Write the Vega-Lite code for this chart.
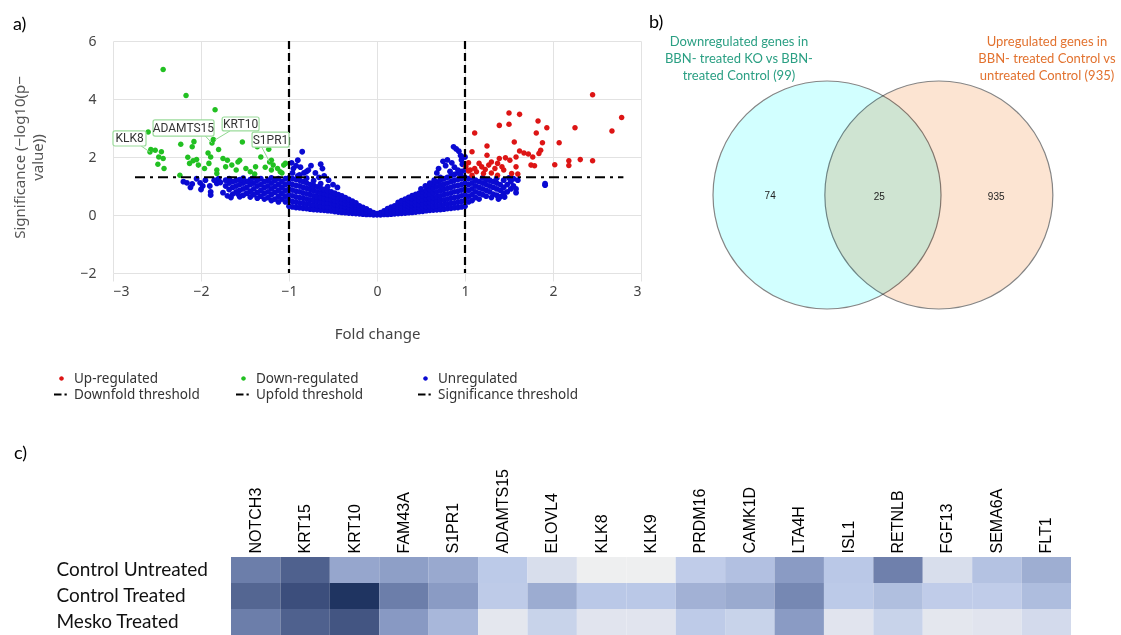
{
"$schema": "https://vega.github.io/schema/vega-lite/v6.json",
"padding": {"left": 12, "top": 14, "right": 0, "bottom": 0},
"background": "white",
"config": {"view": {"stroke": null}, "font": "Noto Sans"},
"spacing": 43,
"resolve": {"scale": {"color": "independent", "shape": "independent"}},
"datasets": {
"green": [{"x":-2.43,"y":5.02},{"x":-2.17,"y":4.12},{"x":-1.84,"y":3.63},{"x":-2.6,"y":2.86},{"x":-1.86,"y":2.6},{"x":-1.53,"y":2.52},{"x":-2.23,"y":2.44},{"x":-2.08,"y":2.53},{"x":-2.1,"y":2.35},{"x":-1.92,"y":2.14},{"x":-1.8,"y":2.26},{"x":-1.36,"y":2.35},{"x":-1.23,"y":2.27},{"x":-2.57,"y":2.26},{"x":-2.52,"y":2.23},{"x":-2.45,"y":2.18},{"x":-2.48,"y":2.0},{"x":-2.43,"y":1.95},{"x":-2.49,"y":1.75},{"x":-2.42,"y":1.6},{"x":-2.15,"y":1.99},{"x":-2.13,"y":1.78},{"x":-2.09,"y":1.87},{"x":-2.05,"y":1.91},{"x":-2.03,"y":1.72},{"x":-1.96,"y":1.6},{"x":-1.89,"y":2.0},{"x":-1.91,"y":1.78},{"x":-1.82,"y":1.55},{"x":-1.75,"y":1.95},{"x":-1.7,"y":1.89},{"x":-1.65,"y":1.72},{"x":-1.72,"y":1.66},{"x":-1.58,"y":1.83},{"x":-1.56,"y":1.89},{"x":-1.6,"y":1.55},{"x":-1.49,"y":1.6},{"x":-1.44,"y":1.49},{"x":-1.38,"y":1.66},{"x":-1.32,"y":2.0},{"x":-1.2,"y":1.89},{"x":-1.18,"y":1.72},{"x":-1.2,"y":1.55},{"x":-1.13,"y":1.6},{"x":-1.06,"y":1.72},{"x":-1.04,"y":1.78},{"x":-1.1,"y":1.49},{"x":-2.24,"y":1.37},{"x":-1.82,"y":1.43},{"x":-1.39,"y":1.41},{"x":-1.875,"y":2.48},{"x":-2.58,"y":2.17},{"x":-1.22,"y":1.83},{"x":-1.27,"y":1.65},{"x":-1.08,"y":1.45}],
"red": [{"x":2.45,"y":4.15},{"x":2.78,"y":3.36},{"x":2.67,"y":2.9},{"x":2.25,"y":3.01},{"x":1.5,"y":3.52},{"x":1.62,"y":3.47},{"x":1.83,"y":3.24},{"x":1.39,"y":3.09},{"x":1.5,"y":3.13},{"x":1.93,"y":3.01},{"x":1.11,"y":2.83},{"x":1.81,"y":2.83},{"x":1.56,"y":2.52},{"x":1.88,"y":2.49},{"x":2.07,"y":2.49},{"x":1.25,"y":2.38},{"x":1.62,"y":2.21},{"x":1.86,"y":2.23},{"x":1.08,"y":2.18},{"x":1.67,"y":2.14},{"x":1.72,"y":2.1},{"x":1.84,"y":2.12},{"x":1.25,"y":2.06},{"x":1.77,"y":2.0},{"x":1.39,"y":1.95},{"x":1.46,"y":1.97},{"x":1.58,"y":2.0},{"x":2.31,"y":1.91},{"x":2.18,"y":1.87},{"x":2.45,"y":1.87},{"x":1.3,"y":1.83},{"x":1.37,"y":1.78},{"x":1.16,"y":1.78},{"x":1.04,"y":1.8},{"x":1.75,"y":1.72},{"x":1.79,"y":1.7},{"x":2.02,"y":1.73},{"x":2.18,"y":1.71},{"x":1.51,"y":1.89},{"x":1.58,"y":1.66},{"x":1.19,"y":1.66},{"x":1.11,"y":1.6},{"x":1.06,"y":1.55},{"x":1.23,"y":1.57},{"x":1.27,"y":1.72},{"x":1.34,"y":1.6},{"x":1.42,"y":1.66},{"x":1.44,"y":1.55},{"x":1.13,"y":1.49},{"x":1.04,"y":1.52},{"x":1.21,"y":1.43},{"x":1.3,"y":1.45},{"x":1.53,"y":1.43},{"x":1.6,"y":1.41},{"x":1.01,"y":1.66},{"x":1.08,"y":1.37},{"x":1.37,"y":1.37}],
"blue": [
{"x":-1,"y":0.3},{"x":-1,"y":0.5},{"x":-1,"y":0.7},{"x":-1,"y":0.9},{"x":-1,"y":1.1},{"x":-1,"y":1.28},
{"x":-0.96,"y":0.28},{"x":-0.96,"y":0.46},{"x":-0.96,"y":0.66},{"x":-0.96,"y":0.86},{"x":-0.96,"y":1.05},{"x":-0.96,"y":1.25},{"x":-0.96,"y":1.45},
{"x":-0.92,"y":0.26},{"x":-0.92,"y":0.44},{"x":-0.92,"y":0.62},{"x":-0.92,"y":0.82},{"x":-0.92,"y":1.02},{"x":-0.92,"y":1.22},
{"x":-0.88,"y":0.25},{"x":-0.88,"y":0.42},{"x":-0.88,"y":0.6},{"x":-0.88,"y":0.8},{"x":-0.88,"y":1.0},{"x":-0.88,"y":1.2},{"x":-0.88,"y":1.38},
{"x":-0.84,"y":0.23},{"x":-0.84,"y":0.4},{"x":-0.84,"y":0.58},{"x":-0.84,"y":0.76},{"x":-0.84,"y":0.95},{"x":-0.84,"y":1.15},
{"x":-0.8,"y":0.22},{"x":-0.8,"y":0.38},{"x":-0.8,"y":0.55},{"x":-0.8,"y":0.73},{"x":-0.8,"y":0.92},{"x":-0.8,"y":1.1},{"x":-0.8,"y":1.27},
{"x":-0.76,"y":0.2},{"x":-0.76,"y":0.36},{"x":-0.76,"y":0.52},{"x":-0.76,"y":0.7},{"x":-0.76,"y":0.88},{"x":-0.76,"y":1.05},
{"x":-0.72,"y":0.19},{"x":-0.72,"y":0.34},{"x":-0.72,"y":0.5},{"x":-0.72,"y":0.66},{"x":-0.72,"y":0.84},{"x":-0.72,"y":1.02},{"x":-0.72,"y":1.18},
{"x":-0.68,"y":0.18},{"x":-0.68,"y":0.32},{"x":-0.68,"y":0.48},{"x":-0.68,"y":0.63},{"x":-0.68,"y":0.8},{"x":-0.68,"y":0.97},
{"x":-0.64,"y":0.17},{"x":-0.64,"y":0.3},{"x":-0.64,"y":0.45},{"x":-0.64,"y":0.6},{"x":-0.64,"y":0.76},{"x":-0.64,"y":0.92},{"x":-0.64,"y":1.08},
{"x":-0.6,"y":0.16},{"x":-0.6,"y":0.29},{"x":-0.6,"y":0.43},{"x":-0.6,"y":0.57},{"x":-0.6,"y":0.72},{"x":-0.6,"y":0.88},
{"x":-0.56,"y":0.15},{"x":-0.56,"y":0.28},{"x":-0.56,"y":0.41},{"x":-0.56,"y":0.55},{"x":-0.56,"y":0.69},{"x":-0.56,"y":0.84},{"x":-0.56,"y":0.98},
{"x":-0.52,"y":0.14},{"x":-0.52,"y":0.26},{"x":-0.52,"y":0.39},{"x":-0.52,"y":0.52},{"x":-0.52,"y":0.66},{"x":-0.52,"y":0.8},
{"x":-0.48,"y":0.12},{"x":-0.48,"y":0.24},{"x":-0.48,"y":0.36},{"x":-0.48,"y":0.49},{"x":-0.48,"y":0.62},{"x":-0.48,"y":0.75},
{"x":-0.44,"y":0.1},{"x":-0.44,"y":0.22},{"x":-0.44,"y":0.34},{"x":-0.44,"y":0.46},{"x":-0.44,"y":0.58},{"x":-0.44,"y":0.7},
{"x":-0.4,"y":0.09},{"x":-0.4,"y":0.2},{"x":-0.4,"y":0.31},{"x":-0.4,"y":0.43},{"x":-0.4,"y":0.55},{"x":-0.4,"y":0.66},
{"x":-0.36,"y":0.08},{"x":-0.36,"y":0.18},{"x":-0.36,"y":0.29},{"x":-0.36,"y":0.4},{"x":-0.36,"y":0.51},{"x":-0.36,"y":0.6},
{"x":-0.32,"y":0.07},{"x":-0.32,"y":0.16},{"x":-0.32,"y":0.26},{"x":-0.32,"y":0.36},{"x":-0.32,"y":0.46},{"x":-0.32,"y":0.54},
{"x":-0.28,"y":0.06},{"x":-0.28,"y":0.14},{"x":-0.28,"y":0.23},{"x":-0.28,"y":0.32},{"x":-0.28,"y":0.41},{"x":-0.28,"y":0.48},
{"x":-0.24,"y":0.05},{"x":-0.24,"y":0.12},{"x":-0.24,"y":0.2},{"x":-0.24,"y":0.28},{"x":-0.24,"y":0.36},{"x":-0.24,"y":0.42},
{"x":-0.2,"y":0.04},{"x":-0.2,"y":0.1},{"x":-0.2,"y":0.17},{"x":-0.2,"y":0.24},{"x":-0.2,"y":0.31},
{"x":-0.16,"y":0.03},{"x":-0.16,"y":0.09},{"x":-0.16,"y":0.15},{"x":-0.16,"y":0.21},{"x":-0.16,"y":0.26},
{"x":-0.12,"y":0.02},{"x":-0.12,"y":0.07},{"x":-0.12,"y":0.12},{"x":-0.12,"y":0.17},{"x":-0.12,"y":0.21},
{"x":-0.08,"y":0.02},{"x":-0.08,"y":0.06},{"x":-0.08,"y":0.1},{"x":-0.08,"y":0.14},
{"x":-0.04,"y":0.01},{"x":-0.04,"y":0.04},{"x":-0.04,"y":0.08},
{"x":0,"y":0.01},{"x":0,"y":0.05},
{"x":0.04,"y":0.01},{"x":0.04,"y":0.04},{"x":0.04,"y":0.08},
{"x":0.08,"y":0.02},{"x":0.08,"y":0.06},{"x":0.08,"y":0.1},{"x":0.08,"y":0.14},
{"x":0.12,"y":0.02},{"x":0.12,"y":0.07},{"x":0.12,"y":0.12},{"x":0.12,"y":0.17},{"x":0.12,"y":0.22},
{"x":0.16,"y":0.03},{"x":0.16,"y":0.09},{"x":0.16,"y":0.15},{"x":0.16,"y":0.21},{"x":0.16,"y":0.27},
{"x":0.2,"y":0.04},{"x":0.2,"y":0.1},{"x":0.2,"y":0.17},{"x":0.2,"y":0.24},{"x":0.2,"y":0.31},
{"x":0.24,"y":0.05},{"x":0.24,"y":0.12},{"x":0.24,"y":0.2},{"x":0.24,"y":0.28},{"x":0.24,"y":0.36},{"x":0.24,"y":0.43},
{"x":0.28,"y":0.06},{"x":0.28,"y":0.14},{"x":0.28,"y":0.23},{"x":0.28,"y":0.32},{"x":0.28,"y":0.41},{"x":0.28,"y":0.49},
{"x":0.32,"y":0.07},{"x":0.32,"y":0.16},{"x":0.32,"y":0.26},{"x":0.32,"y":0.36},{"x":0.32,"y":0.46},{"x":0.32,"y":0.55},
{"x":0.36,"y":0.08},{"x":0.36,"y":0.18},{"x":0.36,"y":0.29},{"x":0.36,"y":0.4},{"x":0.36,"y":0.51},{"x":0.36,"y":0.61},
{"x":0.4,"y":0.09},{"x":0.4,"y":0.2},{"x":0.4,"y":0.31},{"x":0.4,"y":0.43},{"x":0.4,"y":0.55},{"x":0.4,"y":0.67},
{"x":0.44,"y":0.1},{"x":0.44,"y":0.22},{"x":0.44,"y":0.34},{"x":0.44,"y":0.46},{"x":0.44,"y":0.58},{"x":0.44,"y":0.71},
{"x":0.48,"y":0.12},{"x":0.48,"y":0.24},{"x":0.48,"y":0.36},{"x":0.48,"y":0.49},{"x":0.48,"y":0.62},{"x":0.48,"y":0.75},
{"x":0.52,"y":0.13},{"x":0.52,"y":0.26},{"x":0.52,"y":0.39},{"x":0.52,"y":0.52},{"x":0.52,"y":0.66},{"x":0.52,"y":0.8},
{"x":0.56,"y":0.15},{"x":0.56,"y":0.28},{"x":0.56,"y":0.41},{"x":0.56,"y":0.55},{"x":0.56,"y":0.69},{"x":0.56,"y":0.84},{"x":0.56,"y":0.98},
{"x":0.6,"y":0.16},{"x":0.6,"y":0.29},{"x":0.6,"y":0.43},{"x":0.6,"y":0.57},{"x":0.6,"y":0.72},{"x":0.6,"y":0.88},{"x":0.6,"y":1.02},
{"x":0.64,"y":0.17},{"x":0.64,"y":0.3},{"x":0.64,"y":0.45},{"x":0.64,"y":0.6},{"x":0.64,"y":0.76},{"x":0.64,"y":0.92},{"x":0.64,"y":1.08},
{"x":0.68,"y":0.18},{"x":0.68,"y":0.32},{"x":0.68,"y":0.48},{"x":0.68,"y":0.63},{"x":0.68,"y":0.8},{"x":0.68,"y":0.97},{"x":0.68,"y":1.14},
{"x":0.72,"y":0.19},{"x":0.72,"y":0.34},{"x":0.72,"y":0.5},{"x":0.72,"y":0.66},{"x":0.72,"y":0.84},{"x":0.72,"y":1.02},{"x":0.72,"y":1.2},
{"x":0.76,"y":0.2},{"x":0.76,"y":0.36},{"x":0.76,"y":0.52},{"x":0.76,"y":0.7},{"x":0.76,"y":0.88},{"x":0.76,"y":1.06},{"x":0.76,"y":1.25},
{"x":0.8,"y":0.22},{"x":0.8,"y":0.38},{"x":0.8,"y":0.55},{"x":0.8,"y":0.73},{"x":0.8,"y":0.92},{"x":0.8,"y":1.1},{"x":0.8,"y":1.3},
{"x":0.84,"y":0.23},{"x":0.84,"y":0.4},{"x":0.84,"y":0.58},{"x":0.84,"y":0.76},{"x":0.84,"y":0.95},{"x":0.84,"y":1.15},{"x":0.84,"y":1.35},
{"x":0.88,"y":0.25},{"x":0.88,"y":0.42},{"x":0.88,"y":0.6},{"x":0.88,"y":0.8},{"x":0.88,"y":1.0},{"x":0.88,"y":1.2},{"x":0.88,"y":1.4},
{"x":0.92,"y":0.26},{"x":0.92,"y":0.44},{"x":0.92,"y":0.62},{"x":0.92,"y":0.82},{"x":0.92,"y":1.02},{"x":0.92,"y":1.22},{"x":0.92,"y":1.45},
{"x":0.96,"y":0.28},{"x":0.96,"y":0.46},{"x":0.96,"y":0.66},{"x":0.96,"y":0.86},{"x":0.96,"y":1.05},{"x":0.96,"y":1.25},{"x":0.96,"y":1.5},
{"x":1,"y":0.3},{"x":1,"y":0.5},{"x":1,"y":0.7},{"x":1,"y":0.9},{"x":1,"y":1.1},{"x":1,"y":1.3},{"x":1,"y":1.55},
{"x":-1.04,"y":0.45},{"x":-1.04,"y":0.65},{"x":-1.04,"y":0.85},{"x":-1.04,"y":1.05},{"x":-1.04,"y":1.25},
{"x":-1.08,"y":0.55},{"x":-1.08,"y":0.75},{"x":-1.08,"y":0.95},{"x":-1.08,"y":1.15},
{"x":-1.12,"y":0.45},{"x":-1.12,"y":0.65},{"x":-1.12,"y":0.85},{"x":-1.12,"y":1.05},{"x":-1.12,"y":1.25},
{"x":-1.16,"y":0.55},{"x":-1.16,"y":0.78},{"x":-1.16,"y":0.98},{"x":-1.16,"y":1.18},
{"x":-1.2,"y":0.5},{"x":-1.2,"y":0.7},{"x":-1.2,"y":0.9},{"x":-1.2,"y":1.1},{"x":-1.2,"y":1.28},
{"x":-1.24,"y":0.6},{"x":-1.24,"y":0.8},{"x":-1.24,"y":1.0},{"x":-1.24,"y":1.2},
{"x":-1.28,"y":0.55},{"x":-1.28,"y":0.75},{"x":-1.28,"y":0.95},{"x":-1.28,"y":1.15},
{"x":-1.32,"y":0.65},{"x":-1.32,"y":0.85},{"x":-1.32,"y":1.05},{"x":-1.32,"y":1.25},
{"x":-1.36,"y":0.58},{"x":-1.36,"y":0.78},{"x":-1.36,"y":1.0},{"x":-1.36,"y":1.2},
{"x":-1.4,"y":0.7},{"x":-1.4,"y":0.9},{"x":-1.4,"y":1.1},{"x":-1.4,"y":1.28},
{"x":-1.44,"y":0.62},{"x":-1.44,"y":0.82},{"x":-1.44,"y":1.05},{"x":-1.44,"y":1.22},
{"x":-1.48,"y":0.75},{"x":-1.48,"y":0.95},{"x":-1.48,"y":1.15},
{"x":-1.52,"y":0.68},{"x":-1.52,"y":0.9},{"x":-1.52,"y":1.1},{"x":-1.52,"y":1.27},
{"x":-1.56,"y":0.63},{"x":-1.56,"y":0.85},{"x":-1.56,"y":1.05},{"x":-1.56,"y":1.22},
{"x":-1.6,"y":0.8},{"x":-1.6,"y":1.0},{"x":-1.6,"y":1.2},
{"x":-1.64,"y":0.72},{"x":-1.64,"y":0.95},{"x":-1.64,"y":1.15},
{"x":-1.68,"y":0.88},{"x":-1.68,"y":1.1},{"x":-1.68,"y":1.25},
{"x":-1.72,"y":1.0},{"x":-1.72,"y":1.2},{"x":-1.75,"y":0.77},{"x":-1.78,"y":1.12},{"x":-1.8,"y":1.25},{"x":-1.82,"y":1.09},{"x":-1.85,"y":1.2},
{"x":-1.89,"y":0.8},{"x":-1.89,"y":0.69},{"x":-1.9,"y":1.0},{"x":-1.95,"y":1.2},{"x":-1.98,"y":1.0},{"x":-2.0,"y":0.88},{"x":-2.01,"y":1.11},{"x":-2.05,"y":1.25},{"x":-2.1,"y":1.07},{"x":-2.16,"y":1.11},{"x":-2.2,"y":1.15},{"x":-2.12,"y":0.95},{"x":-1.7,"y":0.66},{"x":-1.58,"y":0.72},{"x":-1.66,"y":0.6},
{"x":-0.85,"y":2.18},{"x":-0.9,"y":1.89},{"x":-0.92,"y":1.7},{"x":-0.95,"y":1.6},{"x":-0.97,"y":1.8},{"x":-0.87,"y":1.65},{"x":-0.8,"y":1.5},{"x":-0.78,"y":1.55},{"x":-0.75,"y":1.7},{"x":-0.7,"y":1.45},{"x":-0.64,"y":1.75},{"x":-0.62,"y":1.6},{"x":-0.6,"y":1.35},{"x":-0.66,"y":1.3},{"x":-0.83,"y":1.45},{"x":-0.9,"y":1.35},{"x":-0.55,"y":1.2},{"x":-0.5,"y":1.05},{"x":-0.45,"y":0.95},
{"x":0.87,"y":2.35},{"x":0.9,"y":2.28},{"x":0.93,"y":2.2},{"x":0.95,"y":2.05},{"x":0.8,"y":1.9},{"x":0.75,"y":1.85},{"x":0.78,"y":1.7},{"x":0.7,"y":1.6},{"x":0.68,"y":1.45},{"x":0.72,"y":1.3},{"x":0.65,"y":1.2},{"x":0.85,"y":1.8},{"x":0.88,"y":1.65},{"x":0.92,"y":1.55},{"x":0.97,"y":1.75},{"x":0.96,"y":1.9},{"x":1.0,"y":2.0},{"x":0.6,"y":1.1},{"x":0.55,"y":1.0},{"x":0.5,"y":0.9},{"x":0.83,"y":1.5},{"x":0.95,"y":1.4},
{"x":1.04,"y":0.45},{"x":1.04,"y":0.65},{"x":1.04,"y":0.85},{"x":1.04,"y":1.05},{"x":1.04,"y":1.25},
{"x":1.08,"y":0.5},{"x":1.08,"y":0.7},{"x":1.08,"y":0.9},{"x":1.08,"y":1.1},{"x":1.08,"y":1.28},
{"x":1.12,"y":0.6},{"x":1.12,"y":0.8},{"x":1.12,"y":1.0},{"x":1.12,"y":1.2},
{"x":1.16,"y":0.55},{"x":1.16,"y":0.75},{"x":1.16,"y":0.95},{"x":1.16,"y":1.15},
{"x":1.2,"y":0.7},{"x":1.2,"y":0.9},{"x":1.2,"y":1.1},{"x":1.2,"y":1.28},
{"x":1.24,"y":0.65},{"x":1.24,"y":0.85},{"x":1.24,"y":1.05},{"x":1.24,"y":1.22},
{"x":1.28,"y":0.8},{"x":1.28,"y":1.0},{"x":1.28,"y":1.2},
{"x":1.32,"y":0.72},{"x":1.32,"y":0.95},{"x":1.32,"y":1.15},
{"x":1.36,"y":0.68},{"x":1.36,"y":0.9},{"x":1.36,"y":1.1},{"x":1.36,"y":1.27},
{"x":1.4,"y":0.63},{"x":1.4,"y":0.85},{"x":1.4,"y":1.05},
{"x":1.44,"y":0.75},{"x":1.44,"y":0.95},{"x":1.44,"y":1.2},
{"x":1.48,"y":0.8},{"x":1.48,"y":1.05},
{"x":1.52,"y":0.9},{"x":1.52,"y":1.15},{"x":1.55,"y":1.0},{"x":1.58,"y":0.77},{"x":1.58,"y":0.9},{"x":1.6,"y":1.2},{"x":1.45,"y":0.62},{"x":1.38,"y":0.55},{"x":1.91,"y":1.03},{"x":1.91,"y":1.08},{"x":1.3,"y":0.6},{"x":1.5,"y":1.28},{"x":1.55,"y":1.25}
],
"annot": [
{"gene":"KLK8","bx1":-3.0,"bx2":-2.625,"by1":2.38,"by2":2.9,"tx":-2.81,"ty":2.64,"lx1":-2.68,"ly1":2.38,"lx2":-2.58,"ly2":2.17},
{"gene":"ADAMTS15","bx1":-2.545,"bx2":-1.852,"by1":2.72,"by2":3.28,"tx":-2.2,"ty":3.0,"lx1":-1.95,"ly1":2.72,"lx2":-1.875,"ly2":2.48},
{"gene":"KRT10","bx1":-1.76,"bx2":-1.34,"by1":2.9,"by2":3.38,"tx":-1.55,"ty":3.14,"lx1":-1.67,"ly1":2.9,"lx2":-1.84,"ly2":2.59},
{"gene":"S1PR1","bx1":-1.42,"bx2":-1.0,"by1":2.34,"by2":2.86,"tx":-1.21,"ty":2.6,"lx1":-1.31,"ly1":2.34,"lx2":-1.22,"ly2":1.83}
],
"vlines": [{"x":-1},{"x":1}],
"hline": [{"y":1.3,"x":-2.75,"x2":2.8}],
"circles": [{"set":"KO down","cx":3.82,"cy":4.22},{"set":"Control up","cx":6.22,"cy":4.22}],
"counts": [{"n":"74","cx":2.6,"cy":4.18},{"n":"25","cx":4.94,"cy":4.15},{"n":"935","cx":7.45,"cy":4.15}],
"venntitles": [{"t":"Downregulated genes in\nBBN- treated KO vs BBN-\ntreated Control (99)","cx":1.93,"cy":10,"s":"down"},{"t":"Upregulated genes in\nBBN- treated Control vs\nuntreated Control (935)","cx":8.54,"cy":10,"s":"up"}],
"heat": [
{"gene":"NOTCH3","group":"Control Untreated","v":0.68},{"gene":"KRT15","group":"Control Untreated","v":0.8},{"gene":"KRT10","group":"Control Untreated","v":0.49},{"gene":"FAM43A","group":"Control Untreated","v":0.53},{"gene":"S1PR1","group":"Control Untreated","v":0.475},{"gene":"ADAMTS15","group":"Control Untreated","v":0.3},{"gene":"ELOVL4","group":"Control Untreated","v":0.14},{"gene":"KLK8","group":"Control Untreated","v":0.01},{"gene":"KLK9","group":"Control Untreated","v":0.01},{"gene":"PRDM16","group":"Control Untreated","v":0.28},{"gene":"CAMK1D","group":"Control Untreated","v":0.35},{"gene":"LTA4H","group":"Control Untreated","v":0.55},{"gene":"ISL1","group":"Control Untreated","v":0.31},{"gene":"RETNLB","group":"Control Untreated","v":0.67},{"gene":"FGF13","group":"Control Untreated","v":0.14},{"gene":"SEMA6A","group":"Control Untreated","v":0.34},{"gene":"FLT1","group":"Control Untreated","v":0.45},
{"gene":"NOTCH3","group":"Control Treated","v":0.78},{"gene":"KRT15","group":"Control Treated","v":0.88},{"gene":"KRT10","group":"Control Treated","v":1.0},{"gene":"FAM43A","group":"Control Treated","v":0.68},{"gene":"S1PR1","group":"Control Treated","v":0.55},{"gene":"ADAMTS15","group":"Control Treated","v":0.29},{"gene":"ELOVL4","group":"Control Treated","v":0.46},{"gene":"KLK8","group":"Control Treated","v":0.31},{"gene":"KLK9","group":"Control Treated","v":0.31},{"gene":"PRDM16","group":"Control Treated","v":0.43},{"gene":"CAMK1D","group":"Control Treated","v":0.47},{"gene":"LTA4H","group":"Control Treated","v":0.64},{"gene":"ISL1","group":"Control Treated","v":0.3},{"gene":"RETNLB","group":"Control Treated","v":0.36},{"gene":"FGF13","group":"Control Treated","v":0.28},{"gene":"SEMA6A","group":"Control Treated","v":0.28},{"gene":"FLT1","group":"Control Treated","v":0.37},
{"gene":"NOTCH3","group":"Mesko Treated","v":0.68},{"gene":"KRT15","group":"Mesko Treated","v":0.8},{"gene":"KRT10","group":"Mesko Treated","v":0.85},{"gene":"FAM43A","group":"Mesko Treated","v":0.56},{"gene":"S1PR1","group":"Mesko Treated","v":0.4},{"gene":"ADAMTS15","group":"Mesko Treated","v":0.07},{"gene":"ELOVL4","group":"Mesko Treated","v":0.23},{"gene":"KLK8","group":"Mesko Treated","v":0.09},{"gene":"KLK9","group":"Mesko Treated","v":0.09},{"gene":"PRDM16","group":"Mesko Treated","v":0.29},{"gene":"CAMK1D","group":"Mesko Treated","v":0.23},{"gene":"LTA4H","group":"Mesko Treated","v":0.55},{"gene":"ISL1","group":"Mesko Treated","v":0.09},{"gene":"RETNLB","group":"Mesko Treated","v":0.23},{"gene":"FGF13","group":"Mesko Treated","v":0.07},{"gene":"SEMA6A","group":"Mesko Treated","v":0.09},{"gene":"FLT1","group":"Mesko Treated","v":0.17}
]
},
"vconcat": [
{
"spacing": 7,
"hconcat": [
{
"width": 528,
"height": 232,
"title": {"text": "a)", "anchor": "start", "frame": "bounds", "font": "Lato", "fontSize": 18, "fontWeight": "normal", "offset": 0, "color": "#000"},
"layer": [
{
"data": {"name": "blue"},
"mark": {"type": "point", "filled": true, "size": 380, "opacity": 1},
"encoding": {
"x": {"field": "x", "type": "quantitative", "scale": {"domain": [-3, 3], "nice": false, "zero": false},
"axis": {"title": "Fold change", "values": [-3, -2, -1, 0, 1, 2, 3], "format": "d", "grid": true, "gridColor": "#e2e2e2", "domain": false, "ticks": true, "tickColor": "#e2e2e2", "tickSize": 8, "labelPadding": 3, "labelFont": "Noto Sans", "labelFontSize": 14, "labelColor": "#444", "titleFont": "Noto Sans", "titleFontSize": 15, "titleFontWeight": "normal", "titleColor": "#444", "titlePadding": 28}},
"y": {"field": "y", "type": "quantitative", "scale": {"domain": [-2, 6], "nice": false, "zero": false},
"axis": {"title": ["Significance (−log10(p−", "value))"], "values": [-2, 0, 2, 4, 6], "format": "d", "grid": true, "gridColor": "#e2e2e2", "domain": false, "ticks": false, "tickSize": 0, "labelPadding": 17, "labelFont": "Noto Sans", "labelFontSize": 14, "labelColor": "#444", "titleFont": "Noto Sans", "titleFontSize": 15, "titleFontWeight": "normal", "titleColor": "#555", "titlePadding": 34, "titleLineHeight": 18}},
"color": {"datum": "Unregulated", "type": "nominal",
"scale": {"domain": ["Up-regulated", "Down-regulated", "Unregulated", "Downfold threshold", "Upfold threshold", "Significance threshold"], "range": ["#dd1515", "#22c022", "#0a0ad2", "#000000", "#000000", "#000000"]},
"legend": {"orient": "none", "legendX": -59, "legendY": 330, "columns": 3, "title": null, "direction": "horizontal", "labelFont": "Noto Sans", "labelFontSize": 13.5, "labelColor": "#333", "symbolSize": 225, "labelOffset": 5, "columnPadding": 21, "rowPadding": 2, "gridAlign": "all", "symbolStrokeWidth": 0, "padding": 0}},
"shape": {"datum": "Unregulated", "type": "nominal",
"scale": {"domain": ["Up-regulated", "Down-regulated", "Unregulated", "Downfold threshold", "Upfold threshold", "Significance threshold"], "range": ["M-0.3,0A0.3,0.3 0 1,0 0.3,0A0.3,0.3 0 1,0 -0.3,0Z", "M-0.3,0A0.3,0.3 0 1,0 0.3,0A0.3,0.3 0 1,0 -0.3,0Z", "M-0.3,0A0.3,0.3 0 1,0 0.3,0A0.3,0.3 0 1,0 -0.3,0Z", "M-1,-0.14H0V0.14H-1ZM0.4,-0.14H0.7V0.14H0.4Z", "M-1,-0.14H0V0.14H-1ZM0.4,-0.14H0.7V0.14H0.4Z", "M-1,-0.14H0V0.14H-1ZM0.4,-0.14H0.7V0.14H0.4Z"]},
"legend": {"orient": "none", "legendX": -59, "legendY": 330, "columns": 3, "title": null, "direction": "horizontal", "labelFont": "Noto Sans", "labelFontSize": 13.5, "labelColor": "#333", "symbolSize": 225, "labelOffset": 5, "columnPadding": 21, "rowPadding": 2, "gridAlign": "all", "symbolStrokeWidth": 0, "padding": 0}}
}
},
{
"data": {"name": "green"},
"mark": {"type": "point", "filled": true, "size": 340, "opacity": 1},
"encoding": {"x": {"field": "x", "type": "quantitative"}, "y": {"field": "y", "type": "quantitative"}, "color": {"datum": "Down-regulated", "type": "nominal"}, "shape": {"datum": "Down-regulated", "type": "nominal"}}
},
{
"data": {"name": "red"},
"mark": {"type": "point", "filled": true, "size": 340, "opacity": 1},
"encoding": {"x": {"field": "x", "type": "quantitative"}, "y": {"field": "y", "type": "quantitative"}, "color": {"datum": "Up-regulated", "type": "nominal"}, "shape": {"datum": "Up-regulated", "type": "nominal"}}
},
{
"data": {"name": "vlines"},
"mark": {"type": "rule", "color": "#000", "strokeWidth": 2.2, "strokeDash": [8, 4]},
"encoding": {"x": {"field": "x", "type": "quantitative"}}
},
{
"data": {"name": "hline"},
"mark": {"type": "rule", "color": "#000", "strokeWidth": 2, "strokeDash": [10, 5, 3, 5]},
"encoding": {"x": {"field": "x", "type": "quantitative"}, "x2": {"field": "x2"}, "y": {"field": "y", "type": "quantitative"}}
},
{
"data": {"name": "annot"},
"mark": {"type": "rule", "color": "#8fd88f", "strokeWidth": 1},
"encoding": {"x": {"field": "lx1", "type": "quantitative"}, "x2": {"field": "lx2"}, "y": {"field": "ly1", "type": "quantitative"}, "y2": {"field": "ly2"}}
},
{
"data": {"name": "annot"},
"mark": {"type": "rect", "fill": "#ffffff", "stroke": "#9cdc9c", "strokeWidth": 1.2, "cornerRadius": 2},
"encoding": {"x": {"field": "bx1", "type": "quantitative"}, "x2": {"field": "bx2"}, "y": {"field": "by1", "type": "quantitative"}, "y2": {"field": "by2"}}
},
{
"data": {"name": "annot"},
"mark": {"type": "text", "font": "Roboto", "fontSize": 12, "color": "#333", "align": "center", "baseline": "middle"},
"encoding": {"x": {"field": "tx", "type": "quantitative"}, "y": {"field": "ty", "type": "quantitative"}, "text": {"field": "gene"}}
}
]
},
{
"width": 466,
"height": 275,
"title": {"text": "b)", "anchor": "start", "frame": "group", "font": "Lato", "fontSize": 18, "fontWeight": "normal", "offset": 4, "color": "#000"},
"encoding": {
"x": {"field": "cx", "type": "quantitative", "scale": {"domain": [0, 10], "nice": false, "zero": false}, "axis": null},
"y": {"field": "cy", "type": "quantitative", "scale": {"domain": [-0.18, 9.82], "nice": false, "zero": false}, "axis": null}
},
"layer": [
{
"data": {"name": "circles"},
"transform": [{"filter": "datum.set === 'KO down'"}],
"mark": {"type": "point", "shape": "circle", "filled": true, "size": 51984, "fill": "#d2ffff", "fillOpacity": 1, "stroke": "#858585", "strokeWidth": 1.2, "strokeOpacity": 1}
},
{
"data": {"name": "circles"},
"transform": [{"filter": "datum.set === 'Control up'"}],
"mark": {"type": "point", "shape": "circle", "filled": true, "size": 51984, "fill": "#fce4d2", "fillOpacity": 1, "stroke": "#858585", "strokeWidth": 1.2, "strokeOpacity": 1, "blend": "multiply"}
},
{
"data": {"name": "counts"},
"mark": {"type": "text", "font": "Liberation Sans", "fontSize": 10, "color": "#222", "align": "center", "baseline": "middle"},
"encoding": {"text": {"field": "n"}}
},
{
"data": {"name": "venntitles"},
"transform": [{"filter": "datum.s === 'down'"}],
"mark": {"type": "text", "font": "Lato", "fontSize": 13, "lineHeight": 17, "lineBreak": "\n", "align": "center", "baseline": "top", "color": "#2a9f83"},
"encoding": {"text": {"field": "t"}}
},
{
"data": {"name": "venntitles"},
"transform": [{"filter": "datum.s === 'up'"}],
"mark": {"type": "text", "font": "Lato", "fontSize": 13, "lineHeight": 17, "lineBreak": "\n", "align": "center", "baseline": "top", "color": "#e2722f"},
"encoding": {"text": {"field": "t"}}
}
]
}
]
},
{
"width": 958,
"height": 78,
"title": {"text": "c)", "anchor": "start", "frame": "bounds", "font": "Lato", "fontSize": 18, "fontWeight": "normal", "offset": 6, "dx": -42, "color": "#000"},
"data": {"name": "heat"},
"mark": {"type": "rect"},
"encoding": {
"x": {"field": "gene", "type": "nominal", "sort": ["NOTCH3", "KRT15", "KRT10", "FAM43A", "S1PR1", "ADAMTS15", "ELOVL4", "KLK8", "KLK9", "PRDM16", "CAMK1D", "LTA4H", "ISL1", "RETNLB", "FGF13", "SEMA6A", "FLT1"], "scale": {"paddingInner": 0, "paddingOuter": 0, "range": [118, 958]},
"axis": {"orient": "top", "labelAngle": -90, "title": null, "domain": false, "ticks": false, "tickSize": 0, "labelPadding": 4, "labelFont": "Liberation Sans", "labelFontSize": 16, "labelColor": "#000"}},
"y": {"field": "group", "type": "nominal", "sort": ["Control Untreated", "Control Treated", "Mesko Treated"], "scale": {"paddingInner": 0, "paddingOuter": 0},
"axis": {"title": null, "domain": false, "ticks": false, "tickSize": 0, "labelAlign": "left", "labelPadding": 57, "labelFont": "Lato", "labelFontSize": 19, "labelColor": "#111"}},
"color": {"field": "v", "type": "quantitative", "scale": {"domain": [0, 0.3, 0.6, 1], "range": ["#f0f0f0", "#bccae8", "#8092bd", "#1f3461"]}, "legend": null}
}
}
]
}
